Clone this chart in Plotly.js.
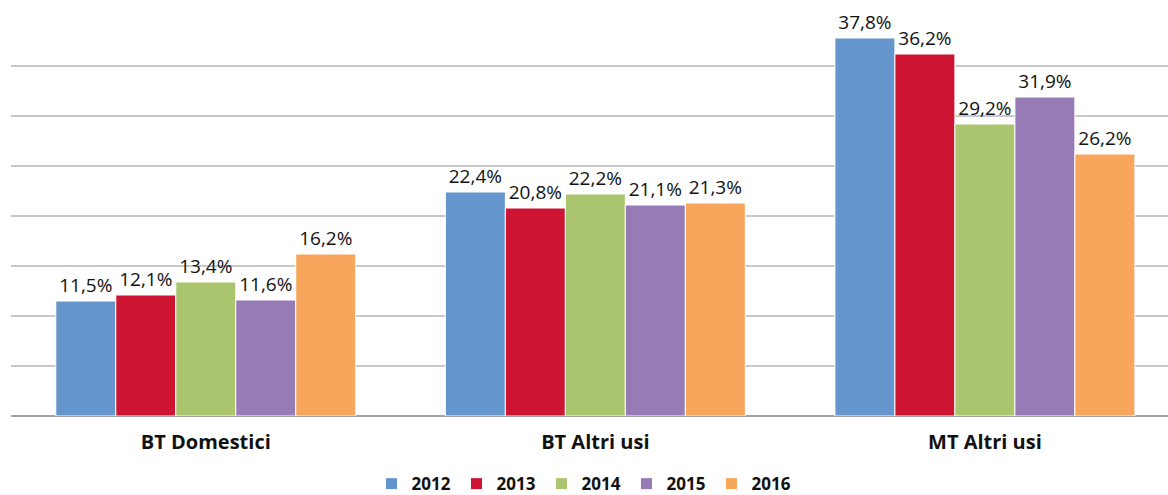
<!DOCTYPE html>
<html><head><meta charset="utf-8">
<script src="https://cdn.plot.ly/plotly-3.0.1.min.js"></script>
<style>html,body{margin:0;padding:0;background:#fff}#chart{width:1168px;height:495px}</style>
</head><body><div id="chart"></div>
<script>
var categories = ["BT Domestici", "BT Altri usi", "MT Altri usi"];
var years = ["2012", "2013", "2014", "2015", "2016"];
var v2012 = [11.5, 22.4, 37.8];
var v2013 = [12.1, 20.8, 36.2];
var v2014 = [13.4, 22.2, 29.2];
var v2015 = [11.6, 21.1, 31.9];
var v2016 = [16.2, 21.3, 26.2];
var colors = ["#6495CD", "#CD1432", "#ABC56E", "#967BB6", "#F7A65C"];
var series = [v2012, v2013, v2014, v2015, v2016];
var fontFam = "Open Sans, DejaVu Sans, sans-serif";
var traces = series.map(function(vals, i){
  return {
    type: "bar", name: years[i], x: categories, y: vals,
    marker: {color: colors[i], line: {color: "#ffffff", width: 1}},
    text: vals.map(function(v){ return v.toFixed(1).replace(".", ",") + "%"; }),
    textposition: "outside", textangle: 0, cliponaxis: false,
    textfont: {family: fontFam, size: 19, color: "#111"},
    hoverinfo: "skip"
  };
});
var layout = {
  width: 1168, height: 495,
  margin: {l: 11, r: 0, t: 16, b: 79},
  paper_bgcolor: "#fff", plot_bgcolor: "#fff",
  barmode: "group", bargap: 0.23, bargroupgap: 0,
  xaxis: {range: [-0.5, 2.47], tickfont: {family: fontFam, size: 20, color: "#111", weight: "bold"}, showgrid: false, ticks: "", showline: false, ticklabelstandoff: 12},
  yaxis: {range: [0, 40], dtick: 5, showticklabels: false, gridcolor: "#c8c8c8", gridwidth: 1.5,
          zeroline: true, zerolinecolor: "#a0a0a0", zerolinewidth: 2, showline: false},
  showlegend: true,
  legend: {orientation: "h", x: 0.5, xanchor: "center", xref: "container", yref: "container", y: 0.022, yanchor: "middle",
           font: {family: fontFam, size: 17, color: "#111", weight: "bold"}, itemwidth: 30, entrywidth: 40, entrywidthmode: "pixels", traceorder: "normal"}
};
Plotly.newPlot("chart", traces, layout, {displayModeBar: false, staticPlot: true});
</script></body></html>
